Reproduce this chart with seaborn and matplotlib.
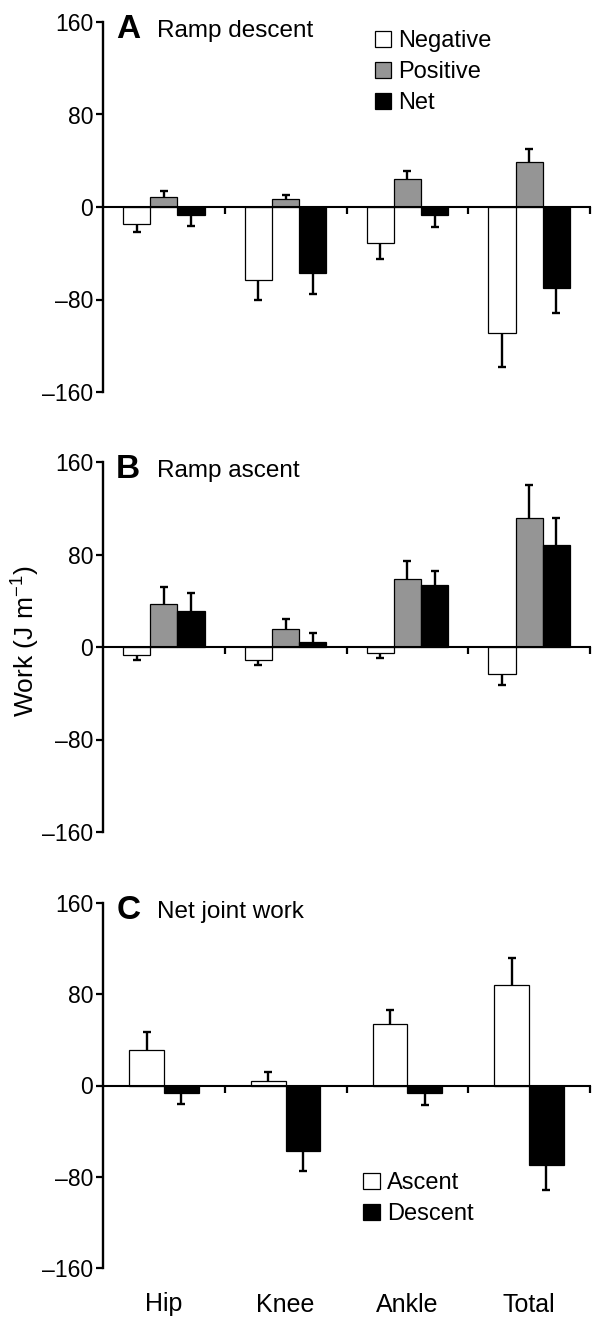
import numpy as np
import pandas as pd
import matplotlib
matplotlib.use("Agg")
import matplotlib.pyplot as plt
import matplotlib.transforms as mtransforms
import seaborn as sns

joints = ["Hip", "Knee", "Ankle", "Total"]

# Ramp descent (J m-1)
desc_neg = [-15, -63, -31, -109]
desc_neg_err = [7, 17, 14, 29]
desc_pos = [8.5, 7, 24, 39]
desc_pos_err = [5.5, 3, 7, 11]
desc_net = [-6.5, -57, -6.5, -70]
desc_net_err = [9.5, 18, 10.5, 22]

# Ramp ascent (J m-1)
asc_neg = [-7, -11.5, -5.5, -23.5]
asc_neg_err = [4.5, 4, 4, 9.5]
asc_pos = [37.5, 15.5, 59, 112]
asc_pos_err = [14, 9, 15, 28]
asc_net = [31, 4, 53.5, 88.5]
asc_net_err = [16, 8, 12.5, 23.5]

work_types = ["Negative", "Positive", "Net"]
conditions = ["Ascent", "Descent"]
yticks = [-160, -80, 0, 80, 160]

sns.set_style("white")
plt.rcParams["font.family"] = ["Liberation Sans", "DejaVu Sans"]
plt.rcParams["mathtext.fontset"] = "custom"
plt.rcParams["mathtext.rm"] = "Liberation Sans"
plt.rcParams["mathtext.default"] = "regular"
for key in ["text.color", "axes.labelcolor", "axes.edgecolor",
            "xtick.color", "ytick.color"]:
    plt.rcParams[key] = "black"


def long_df(groups, names):
    rows = []
    for name, (vals, errs) in zip(names, groups):
        for j, v, e in zip(joints, vals, errs):
            rows.append({"joint": j, "kind": name, "value": v, "err": e})
    return pd.DataFrame(rows)


def draw_panel(ax, df, names, colors, width, letter, title, show_legend, leg_pos):
    sns.barplot(data=df, x="joint", y="value", hue="kind", hue_order=names,
                order=joints, palette=colors, width=width, errorbar=None,
                edgecolor="black", linewidth=0.9, legend=show_legend, ax=ax,
                zorder=2)
    # one-sided error bars pointing away from zero, cap only at the far end
    for cont, name in zip(ax.containers, names):
        sub = df[df["kind"] == name].set_index("joint").loc[joints]
        xs = np.array([p.get_x() + p.get_width() / 2 for p in cont.patches])
        vals = sub["value"].values
        ends = vals + np.sign(vals) * sub["err"].values
        ax.vlines(xs, vals, ends, color="black", linewidth=1.7, zorder=3)
        ax.plot(xs, ends, linestyle="none", marker="_", markersize=6,
                markeredgewidth=1.7, color="black", zorder=3)

    ax.set_xlim(-0.5, 3.5)
    ax.set_ylim(-160, 160)
    ax.set_yticks(yticks)
    ax.set_yticklabels([f"{t}".replace("-", "\u2013") for t in yticks])
    ax.spines["top"].set_visible(False)
    ax.spines["right"].set_visible(False)
    ax.spines["left"].set_linewidth(1.7)
    ax.spines["bottom"].set_linewidth(1.5)
    ax.spines["bottom"].set_position(("data", 0))
    ax.spines["left"].set_zorder(5)
    ax.spines["bottom"].set_zorder(5)
    ax.set_xticks([0.5, 1.5, 2.5, 3.5])
    ax.set_xticklabels([])
    ax.tick_params(axis="x", direction="out", length=5, width=1.6, bottom=True)
    ax.tick_params(axis="y", direction="out", length=5, width=1.6, left=True,
                   labelsize=16.5, pad=2)
    ax.set_xlabel("")
    ax.set_ylabel("")

    ax.text(0.027, 0.956, letter, transform=ax.transAxes, fontsize=24,
            fontweight="bold", va="baseline", ha="left")
    ax.text(0.111, 0.960, title, transform=ax.transAxes, fontsize=17.5,
            va="baseline", ha="left")

    if show_legend:
        ax.legend(frameon=False, loc="upper left", bbox_to_anchor=leg_pos,
                  fontsize=17, handlelength=0.7, handleheight=0.7,
                  handletextpad=0.3, labelspacing=0.38, borderaxespad=0,
                  borderpad=0)


fig = plt.figure(figsize=(6.0, 13.29), dpi=100)
W = fig.get_figwidth() * fig.dpi
H = fig.get_figheight() * fig.dpi

ax_a = fig.add_axes([103 / W, 1 - 392 / H, 487 / W, 370 / H])
ax_b = fig.add_axes([103 / W, 1 - 832 / H, 487 / W, 370 / H])
ax_c = fig.add_axes([103 / W, 1 - 1268 / H, 487 / W, 365 / H])

gray = "#959595"

df_a = long_df([(desc_neg, desc_neg_err), (desc_pos, desc_pos_err),
                (desc_net, desc_net_err)], work_types)
draw_panel(ax_a, df_a, work_types, ["white", gray, "black"], 0.67,
           "A", "Ramp descent", True, (0.558, 0.978))

df_b = long_df([(asc_neg, asc_neg_err), (asc_pos, asc_pos_err),
                (asc_net, asc_net_err)], work_types)
draw_panel(ax_b, df_b, work_types, ["white", gray, "black"], 0.67,
           "B", "Ramp ascent", False, None)

df_c = long_df([(asc_net, asc_net_err), (desc_net, desc_net_err)], conditions)
draw_panel(ax_c, df_c, conditions, ["white", "black"], 0.57,
           "C", "Net joint work", True, (0.534, 0.262))

trans = mtransforms.blended_transform_factory(ax_c.transData, ax_c.transAxes)
for i, j in enumerate(joints):
    ax_c.text(i, -0.1, j, transform=trans, ha="center", va="center",
              fontsize=18)

ax_b.set_ylabel("Work (J m$^{-1}$)", fontsize=19)
ax_b.yaxis.set_label_coords(-0.125, 0.515)

fig.savefig("out.png", dpi=100)
